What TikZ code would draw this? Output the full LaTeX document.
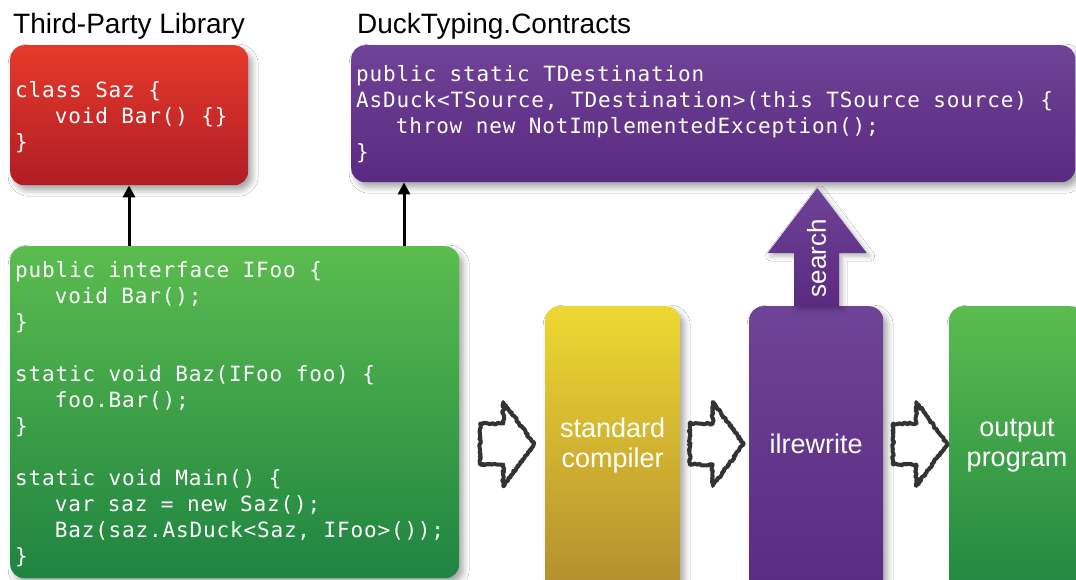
\documentclass[tikz,border=0pt]{standalone}
\usepackage{fontspec}
\setmainfont{Liberation Sans}
\newfontfamily\codefont[LetterSpace=4]{DejaVu Sans Mono}
\usetikzlibrary{calc,shadows.blur,decorations.pathmorphing,arrows.meta}

\definecolor{redtop}{HTML}{E63A2B}
\definecolor{redbot}{HTML}{B01D25}
\definecolor{purtop}{HTML}{6F4397}
\definecolor{purbot}{HTML}{5A2A80}
\definecolor{grntop}{HTML}{5BBC4F}
\definecolor{grnbot}{HTML}{1F8441}
\definecolor{yeltop}{HTML}{EFD832}
\definecolor{yelbot}{HTML}{B08A2F}
\definecolor{sketchgray}{HTML}{333333}

\begin{document}
\begin{tikzpicture}[x=1pt,y=-1pt,
  box/.style={rounded corners=14pt, inner sep=0pt, anchor=north west,
    blur shadow={shadow xshift=4pt, shadow yshift=-5pt,
      shadow blur radius=6pt, shadow opacity=35}},
  redbox/.style={box, top color=redtop, bottom color=redbot},
  purplebox/.style={box, top color=purtop, bottom color=purbot},
  greenbox/.style={box, top color=grntop, bottom color=grnbot},
  yellowbox/.style={box, top color=yeltop, bottom color=yelbot},
  code/.style={anchor=north west, inner sep=0pt, align=left, text=white,
    font=\codefont\fontsize{21}{26}\selectfont},
  heading/.style={anchor=base west, inner sep=0pt,
    font=\fontsize{28}{30}\selectfont},
  stagetext/.style={inner sep=0pt, align=center, text=white,
    font=\fontsize{27}{30}\selectfont},
  link/.style={draw=black, line width=3pt,
    -{Triangle[length=12pt,width=12pt]}},
  sketch/.style={draw=sketchgray, line width=4pt, line join=round,
    decorate, decoration={random steps, segment length=1.5pt, amplitude=1pt}},
  hollowarrow/.pic={
    \draw[sketch] (-27,-20.5) -- (-4,-20.5) -- (-4,-42) -- (27,0)
      -- (-4,42) -- (-4,20.5) -- (-27,20.5) -- cycle;
  }
]
\useasboundingbox (0,0) rectangle (1076,580);
\fill[white] (0,0) rectangle (1076,580);
\clip (0,0) rectangle (1076,580);

% headings
\node[heading] (libtitle) at (13,33.3) {Third-Party Library};
\node[heading] (contitle) at (357,33.3) {DuckTyping.Contracts};

% third-party class
\node[redbox, minimum width=238pt, minimum height=140pt] (saz) at (10,45) {};
\node[code] (sazcode) at (15,78.8) {\strut class Saz \{\\
\hphantom{xxx}void Bar() \{\}\\
\}};

% contract method
\node[purplebox, minimum width=724pt, minimum height=137pt] (contract) at (351,45) {};
\node[code] (contractcode) at (356,63.5) {\strut public static TDestination\\
AsDuck<TSource, TDestination>(this TSource source) \{\\
\hphantom{xxx}throw new NotImplementedException();\\
\}};

% user code
\node[greenbox, minimum width=449pt, minimum height=332pt] (iface) at (10,246) {};
\node[code] (ifacecode) at (15,258.8) {\strut public interface IFoo \{\\
\hphantom{xxx}void Bar();\\
\}\\[26pt]
static void Baz(IFoo foo) \{\\
\hphantom{xxx}foo.Bar();\\
\}\\[26pt]
static void Main() \{\\
\hphantom{xxx}var saz = new Saz();\\
\hphantom{xxx}Baz(saz.AsDuck<Saz, IFoo>());\\
\}};

% references to the library and the contract
\draw[link] ([xshift=119pt]iface.north west) -- ([xshift=119pt]iface.north west |- saz.south);
\draw[link] ([xshift=394pt]iface.north west) -- ([xshift=394pt]iface.north west |- contract.south);

% build pipeline
\node[yellowbox, minimum width=135pt, minimum height=300pt] (compiler) at (545,306) {};
\node[purplebox, minimum width=134pt, minimum height=300pt] (ilr) at (749,306) {};
\node[greenbox, minimum width=135pt, minimum height=300pt] (output) at (949,306) {};

\node[stagetext] (compilertext) at (compiler.north |- 0,446) {standard\\compiler};
\node[stagetext] (ilrtext) at (ilr.north |- 0,443.5) {ilrewrite};
\node[stagetext] (outputtext) at (1017,446) {output\\program};

% search arrow from ilrewrite up to the contract
\begin{scope}[shift={(ilr.north)}]
  \path[top color=purtop, bottom color=purbot,
    blur shadow={shadow xshift=3pt, shadow yshift=-3pt,
      shadow blur radius=5pt, shadow opacity=30}]
    (-22,0) -- (-22,-53) -- (-48.5,-53) -- (1,-118) -- (50.5,-53)
    -- (23,-53) -- (23,0) -- cycle;
\end{scope}
\node[rotate=90, inner sep=0pt, text=white, font=\fontsize{26}{26}\selectfont]
  (searchtext) at (816.5,258) {search};

% hand-drawn flow arrows between the stages
\coordinate (m1) at ($(iface.east)!.5!(compiler.west)$);
\coordinate (m2) at ($(compiler.east)!.5!(ilr.west)$);
\coordinate (m3) at ($(ilr.east)!.5!(output.west)$);
\pic at ([xshift=5pt]m1 |- 0,444) {hollowarrow};
\pic at ([xshift=2pt]m2 |- 0,444) {hollowarrow};
\pic at ([xshift=4pt]m3 |- 0,444) {hollowarrow};
\end{tikzpicture}
\end{document}
